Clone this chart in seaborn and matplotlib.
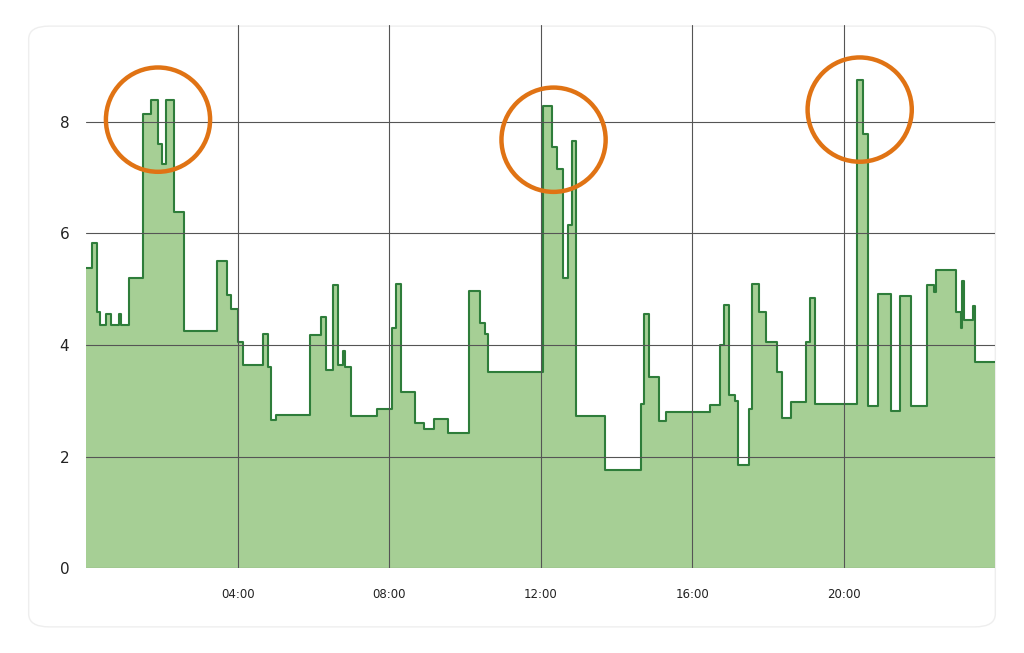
import numpy as np
import pandas as pd
import seaborn as sns
import matplotlib.pyplot as plt
from matplotlib.patches import Ellipse, FancyBboxPatch

hours = [0, 0.16, 0.29, 0.37, 0.53, 0.66, 0.87, 0.92, 1.14, 1.51, 1.72, 1.90, 2.01, 2.11, 2.32, 2.59,
         3.46, 3.73, 3.83, 4.02, 4.15, 4.68, 4.81, 4.89, 5.02, 5.92, 6.21, 6.34, 6.53, 6.66, 6.79, 6.84,
         7.00, 7.69, 8.08, 8.19, 8.32, 8.67, 8.93, 9.19, 9.56, 10.12, 10.41, 10.52, 10.62, 12.07, 12.31,
         12.42, 12.60, 12.73, 12.84, 12.92, 13.69, 14.66, 14.72, 14.85, 15.11, 15.32, 16.46, 16.72, 16.83,
         16.96, 17.12, 17.22, 17.49, 17.59, 17.75, 17.94, 18.23, 18.36, 18.60, 18.99, 19.10, 19.23, 20.34,
         20.50, 20.63, 20.90, 21.24, 21.48, 21.77, 22.19, 22.38, 22.43, 22.96, 23.09, 23.12, 23.17, 23.41,
         23.46, 24.0]
values = [5.38, 5.82, 4.6, 4.35, 4.55, 4.35, 4.55, 4.35, 5.2, 8.15, 8.4, 7.6, 7.25, 8.4, 6.38, 4.25,
          5.5, 4.9, 4.65, 4.05, 3.65, 4.2, 3.6, 2.65, 2.75, 4.18, 4.5, 3.55, 5.08, 3.65, 3.9, 3.6,
          2.72, 2.85, 4.3, 5.1, 3.15, 2.6, 2.5, 2.68, 2.43, 4.97, 4.4, 4.2, 3.52, 8.28, 7.55,
          7.15, 5.2, 6.15, 7.65, 2.72, 1.75, 2.95, 4.55, 3.42, 2.63, 2.8, 2.92, 4.0, 4.72,
          3.1, 3.0, 1.85, 2.85, 5.1, 4.6, 4.05, 3.52, 2.7, 2.98, 4.05, 4.85, 2.95, 8.75,
          7.78, 2.9, 4.92, 2.82, 4.87, 2.9, 5.08, 4.95, 5.35, 4.6, 4.3, 5.15, 4.45, 4.7,
          3.7, 3.7]
xticks = [4, 8, 12, 16, 20]
xtick_labels = ["04:00", "08:00", "12:00", "16:00", "20:00"]
yticks = [0, 2, 4, 6, 8]
highlights_x = [1.90, 12.34, 20.42]
highlights_y = [8.04, 7.68, 8.22]

df = pd.DataFrame({"hour": hours, "value": values})

sns.set_style("white")
fig = plt.figure(figsize=(10.24, 6.53), dpi=100)
card = FancyBboxPatch((0.028, 0.04), 0.944, 0.92, boxstyle="round,pad=0,rounding_size=0.02",
                      transform=fig.transFigure, facecolor="white", edgecolor="#eeeeee", lw=1, zorder=-10)
fig.patches.append(card)
ax = fig.add_axes([0.084, 0.130, 0.888, 0.832])
ax.set_zorder(5)
ax.set_facecolor("none")

ax.fill_between(df["hour"], df["value"], step="post", color="#a6cf95", lw=0)
sns.lineplot(data=df, x="hour", y="value", ax=ax, drawstyle="steps-post", color="#2e7d3a", lw=1.5)

ax.set_xlim(0, 24)
ax.set_ylim(0, 9.74)
ax.set_xticks(xticks)
ax.set_xticklabels(xtick_labels, fontsize=8.5, color="#222222")
ax.set_yticks(yticks)
ax.set_yticklabels([str(v) for v in yticks], fontsize=11, color="#222222")
ax.tick_params(length=0, pad=14)
ax.tick_params(axis="y", pad=12)
ax.set_xlabel("")
ax.set_ylabel("")
for v in yticks:
    ax.axhline(v, color="#555555", lw=0.8, zorder=3)
for h in xticks:
    ax.axvline(h, color="#555555", lw=0.8, zorder=3)
for s in ax.spines.values():
    s.set_visible(False)

for cx, cy in zip(highlights_x, highlights_y):
    ax.add_patch(Ellipse((cx, cy), width=2.75, height=1.87, fill=False, edgecolor="#e07314", lw=3.2, zorder=5))

fig.savefig("out.png", dpi=100)
